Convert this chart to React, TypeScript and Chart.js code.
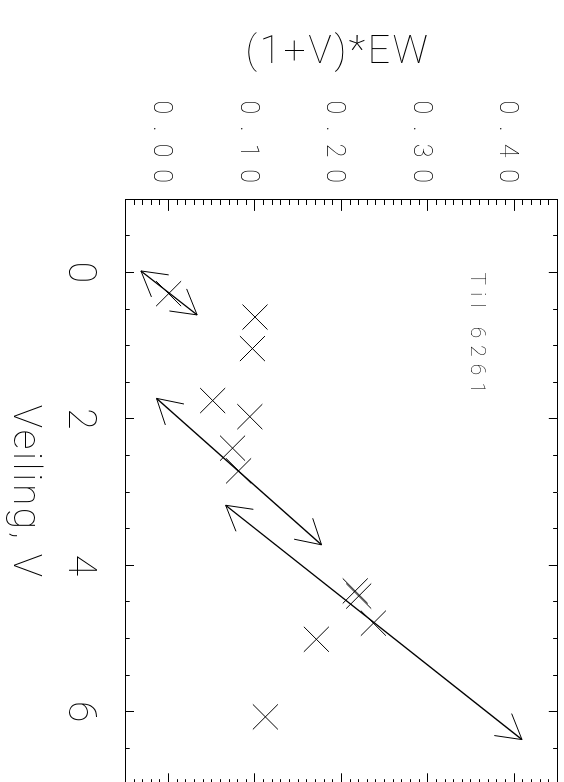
import { useEffect, useRef } from "react";
import { Chart, registerables } from "chart.js";

Chart.register(...registerables);

// ---- data ----
const veiling = [0.29, 0.61, 1.04, 1.75, 1.97, 2.40, 2.71, 4.35, 4.42, 4.79, 5.01, 6.07];
const ewProduct = [0.000, 0.100, 0.097, 0.051, 0.094, 0.074, 0.081, 0.216, 0.220, 0.237, 0.171, 0.112];

const arrowStartV = [-0.02, 1.72, 3.18];
const arrowStartEW = [-0.032, -0.014, 0.066];
const arrowEndV = [0.58, 3.72, 6.38];
const arrowEndEW = [0.033, 0.177, 0.409];

const veilingTicks = [0, 2, 4, 6];
const veilingTickLabels = ["0", "2", "4", "6"];
const ewTicks = [0, 0.1, 0.2, 0.3, 0.4];
const ewTickLabels = ["0.00", "0.10", "0.20", "0.30", "0.40"];

const xTitle = "Veiling, V";
const yTitle = "(1+V)*EW";
const annotationText = "Til 6261";
const annotationV = 0;
const annotationEW = 0.35;

const FONT = "Roboto, 'DejaVu Sans', sans-serif";
const WEIGHT = "100";
const TICK_SPACING = 12;

function drawHead(ctx: CanvasRenderingContext2D, x: number, y: number, theta: number) {
  const head = 28;
  const ang = Math.PI / 6;
  ctx.beginPath();
  ctx.moveTo(x - head * Math.cos(theta - ang), y - head * Math.sin(theta - ang));
  ctx.lineTo(x, y);
  ctx.lineTo(x - head * Math.cos(theta + ang), y - head * Math.sin(theta + ang));
  ctx.stroke();
}

function zeroPadding(s: any) {
  s.paddingTop = 0;
  s.paddingBottom = 0;
  s.paddingLeft = 0;
  s.paddingRight = 0;
}

const decorPlugin = {
  id: "decor",
  beforeDraw(chart: any) {
    (chart.ctx as any).letterSpacing = TICK_SPACING + "px";
  },
  afterDatasetsDraw(chart: any) {
    const { ctx, scales } = chart;
    const xs = scales.x;
    const ys = scales.y;
    ctx.save();
    ctx.strokeStyle = "#000";
    ctx.lineWidth = 1;
    for (let i = 0; i < arrowStartV.length; i++) {
      const x0 = xs.getPixelForValue(arrowStartV[i]);
      const y0 = ys.getPixelForValue(arrowStartEW[i]);
      const x1 = xs.getPixelForValue(arrowEndV[i]);
      const y1 = ys.getPixelForValue(arrowEndEW[i]);
      drawHead(ctx, x1, y1, Math.atan2(y1 - y0, x1 - x0));
      drawHead(ctx, x0, y0, Math.atan2(y0 - y1, x0 - x1));
    }
    ctx.restore();
  },
  afterDraw(chart: any) {
    const { ctx, chartArea, scales } = chart;
    ctx.save();
    ctx.fillStyle = "#000";
    // x title
    ctx.letterSpacing = "2.6px";
    ctx.font = `${WEIGHT} 39px ${FONT}`;
    ctx.textAlign = "center";
    ctx.textBaseline = "alphabetic";
    ctx.fillText(xTitle, (chartArea.left + chartArea.right) / 2, chartArea.bottom + 111.4);
    // y title
    ctx.save();
    ctx.translate(chartArea.left - 136.2, (chartArea.top + chartArea.bottom) / 2 + 3.4);
    ctx.rotate(-Math.PI / 2);
    ctx.fillText(yTitle, 0, 0);
    ctx.restore();
    // annotation
    ctx.letterSpacing = "7px";
    ctx.font = `${WEIGHT} 21px ${FONT}`;
    ctx.textAlign = "left";
    ctx.fillText(
      annotationText,
      scales.x.getPixelForValue(annotationV),
      scales.y.getPixelForValue(annotationEW)
    );
    ctx.restore();
    (ctx as any).letterSpacing = "0px";
  },
};

export default function App() {
  const ref = useRef<HTMLCanvasElement>(null);

  useEffect(() => {
    if (!ref.current) return;
    Chart.defaults.color = "#000";
    const tickFontV = { family: FONT, size: 39, weight: WEIGHT as any };
    const tickFontE = { family: FONT, size: 25, weight: WEIGHT as any };

    const minorX = (position: string, len: number) => ({
      type: "linear",
      position,
      min: -1,
      max: 7,
      weight: 0,
      afterFit: (s: any) => {
        s.height = 0;
        zeroPadding(s);
      },
      border: { display: false },
      grid: { drawOnChartArea: false, tickLength: len, tickColor: "#000", tickWidth: 1 },
      ticks: { stepSize: 0.5, display: false },
    });
    const minorY = (position: string, len: number) => ({
      type: "linear",
      position,
      min: -0.05,
      max: 0.45,
      weight: 0,
      afterFit: (s: any) => {
        s.width = 0;
        zeroPadding(s);
      },
      border: { display: false },
      grid: { drawOnChartArea: false, tickLength: len, tickColor: "#000", tickWidth: 1 },
      ticks: { stepSize: 0.01, display: false },
    });

    const chart = new Chart(ref.current, {
      type: "scatter",
      data: {
        datasets: [
          {
            data: veiling.map((v, i) => ({ x: v, y: ewProduct[i] })),
            pointStyle: "crossRot",
            pointRadius: 17.7,
            pointHoverRadius: 17.7,
            pointBorderColor: "#000",
            pointBackgroundColor: "#000",
            pointBorderWidth: 1,
            showLine: false,
          } as any,
          ...arrowStartV.map(
            (v, i) =>
              ({
                data: [
                  { x: v, y: arrowStartEW[i] },
                  { x: arrowEndV[i], y: arrowEndEW[i] },
                ],
                showLine: true,
                borderColor: "#000",
                borderWidth: 1.3,
                pointRadius: 0,
                pointHoverRadius: 0,
                fill: false,
              } as any)
          ),
        ],
      },
      options: {
        animation: false,
        responsive: false,
        devicePixelRatio: 1,
        events: [],
        layout: { autoPadding: false, padding: { left: 0, right: 15, top: 6.6, bottom: 0 } },
        plugins: { legend: { display: false }, tooltip: { enabled: false } },
        scales: {
          x: {
            type: "linear",
            position: "bottom",
            min: -1,
            max: 7,
            weight: 1,
            afterBuildTicks: (s: any) => {
              s.ticks = veilingTicks.map((v) => ({ value: v }));
            },
            afterFit: (s: any) => {
              s.height = 125.4;
              zeroPadding(s);
            },
            border: { display: true, color: "#000", width: 1 },
            grid: { drawOnChartArea: false, tickLength: -8.6, tickColor: "#000", tickWidth: 1 },
            ticks: {
              font: tickFontV,
              padding: 31.6,
              maxRotation: 0,
              autoSkip: false,
              labelOffset: TICK_SPACING / 2,
              callback: (_v: any, i: number) => veilingTickLabels[i],
            },
          },
          xMinor: minorX("bottom", -4.3),
          x2: {
            type: "linear",
            position: "top",
            min: -1,
            max: 7,
            weight: 1,
            afterBuildTicks: (s: any) => {
              s.ticks = veilingTicks.map((v) => ({ value: v }));
            },
            afterFit: (s: any) => {
              s.height = 0;
              zeroPadding(s);
            },
            border: { display: true, color: "#000", width: 1 },
            grid: { drawOnChartArea: false, tickLength: -8.6, tickColor: "#000", tickWidth: 1 },
            ticks: { display: false },
          },
          x2Minor: minorX("top", -4.3),
          y: {
            type: "linear",
            position: "left",
            min: -0.05,
            max: 0.45,
            weight: 1,
            afterBuildTicks: (s: any) => {
              s.ticks = ewTicks.map((v) => ({ value: v }));
            },
            afterFit: (s: any) => {
              s.width = 199.2;
              zeroPadding(s);
            },
            border: { display: true, color: "#000", width: 1 },
            grid: { drawOnChartArea: false, tickLength: -11.7, tickColor: "#000", tickWidth: 1 },
            ticks: {
              font: tickFontE,
              padding: 15.9,
              autoSkip: false,
              labelOffset: 8,
              callback: (_v: any, i: number) => ewTickLabels[i],
            },
          },
          yMinor: minorY("left", -5.8),
          y2: {
            type: "linear",
            position: "right",
            min: -0.05,
            max: 0.45,
            weight: 1,
            afterBuildTicks: (s: any) => {
              s.ticks = ewTicks.map((v) => ({ value: v }));
            },
            afterFit: (s: any) => {
              s.width = 0;
              zeroPadding(s);
            },
            border: { display: true, color: "#000", width: 1 },
            grid: { drawOnChartArea: false, tickLength: -11.7, tickColor: "#000", tickWidth: 1 },
            ticks: { display: false },
          },
          y2Minor: minorY("right", -5.8),
        } as any,
      },
      plugins: [decorPlugin as any],
    });
    return () => chart.destroy();
  }, []);

  return (
    <div
      style={{
        position: "fixed",
        left: 0,
        top: 0,
        width: 800,
        height: 564,
        transformOrigin: "0 0",
        transform: "translateX(564px) rotate(90deg)",
        background: "#fff",
      }}
    >
      <canvas ref={ref} width={800} height={564} style={{ width: 800, height: 564, display: "block" }} />
    </div>
  );
}
